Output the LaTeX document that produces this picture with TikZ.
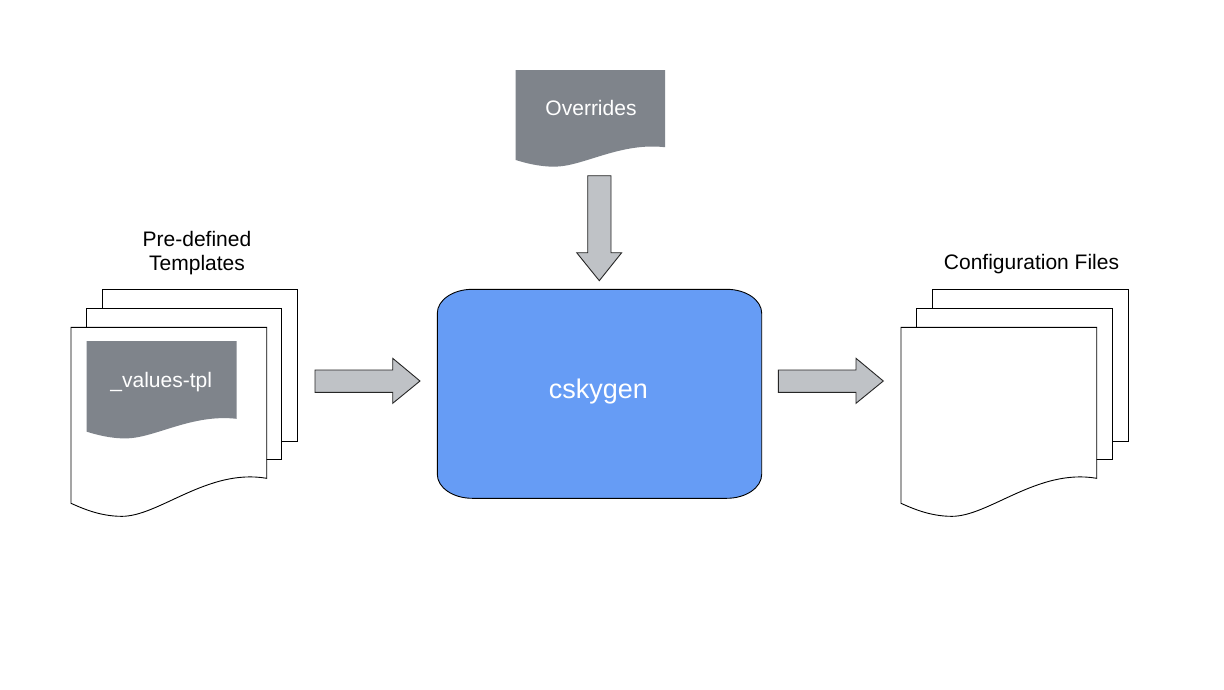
\documentclass[tikz,border=0pt]{standalone}
\usepackage{fontspec}
\setmainfont{Liberation Sans}
\definecolor{docgray}{HTML}{7F848B}
\definecolor{mainblue}{HTML}{669CF5}
\definecolor{arrowgray}{HTML}{BFC2C6}
\newcommand\mydoc[5][]{%
  \path[#1] (#2,#3) -- ({#2+#4},#3) -- ({#2+#4},{#3+0.858*#5})
    .. controls ({#2+0.7*#4},{#3+0.80*#5}) and ({#2+0.45*#4},{#3+1.074*#5}) .. ({#2+0.26*#4},{#3+1.074*#5})
    .. controls ({#2+0.15*#4},{#3+1.074*#5}) and ({#2+0.06*#4},{#3+1.03*#5}) .. (#2,{#3+#5}) -- cycle;}
\tikzset{
  page/.style={draw=black, fill=white, line width=0.9pt},
  graydoc/.style={fill=docgray},
  blockarrow/.style={draw=black!85, fill=arrowgray, line width=0.9pt, line join=miter},
  lbl/.style={font=\fontsize{21}{23.5}\selectfont, text=black, inner sep=0pt, anchor=base, align=center},
  wlbl/.style={font=\fontsize{21}{23.5}\selectfont, text=white, inner sep=0pt, anchor=base},
}
\begin{document}
\begin{tikzpicture}[x=1pt,y=-1pt]
\useasboundingbox[fill=white] (0,0) rectangle (1224,689);
% left stack
\draw[page] (102.3,289.3) rectangle (297.3,441);
\draw[page] (86,308.3) rectangle (281.3,459.3);
\mydoc[page]{71}{327.3}{195.7}{176}
\mydoc[graydoc]{86.7}{341}{150}{90.7}
\node[wlbl] (tpl) at (161.2,387.5) {\_values-tpl};
\node[lbl] (predef) at (197,270) {Pre-defined\\Templates};
% overrides
\mydoc[graydoc]{515.7}{70}{149.3}{90}
\node[wlbl] (ovr) at (591,115) {Overrides};
% down arrow
\draw[blockarrow] (587.7,175.7) -- (611,175.7) -- (611,252.7) -- (621.7,252.7) -- (599.3,280.7)
  -- (576.7,252.7) -- (587.7,252.7) -- cycle;
% main box
\draw[fill=mainblue, draw=black, line width=0.9pt]
  (472.3,289.3) -- (726.7,289.3) arc[start angle=90,end angle=0,x radius=35pt,y radius=24pt]
  -- (761.7,474.3) arc[start angle=0,end angle=-90,x radius=35pt,y radius=24pt]
  -- (472.3,498.3) arc[start angle=270,end angle=180,x radius=35pt,y radius=24pt]
  -- (437.3,313.3) arc[start angle=180,end angle=90,x radius=35pt,y radius=24pt] -- cycle;
\node[font=\fontsize{27}{30}\selectfont, text=white, inner sep=0pt, anchor=base] (gen) at (598.3,398.3) {cskygen};
% right arrows
\draw[blockarrow] (315,370) -- (392.7,370) -- (392.7,358.3) -- (420,381) -- (392.7,403.3)
  -- (392.7,392.3) -- (315,392.3) -- cycle;
\draw[blockarrow] (778.3,370) -- (856,370) -- (856,358.3) -- (883.3,381) -- (856,403.3)
  -- (856,392.3) -- (778.3,392.3) -- cycle;
% right stack
\draw[page] (932.3,289.3) rectangle (1128.3,441.3);
\draw[page] (916,308.3) rectangle (1112.3,459.3);
\mydoc[page]{901}{327.3}{195.7}{176}
\node[lbl] (conf) at (1031.5,269.3) {Configuration Files};
\end{tikzpicture}
\end{document}
